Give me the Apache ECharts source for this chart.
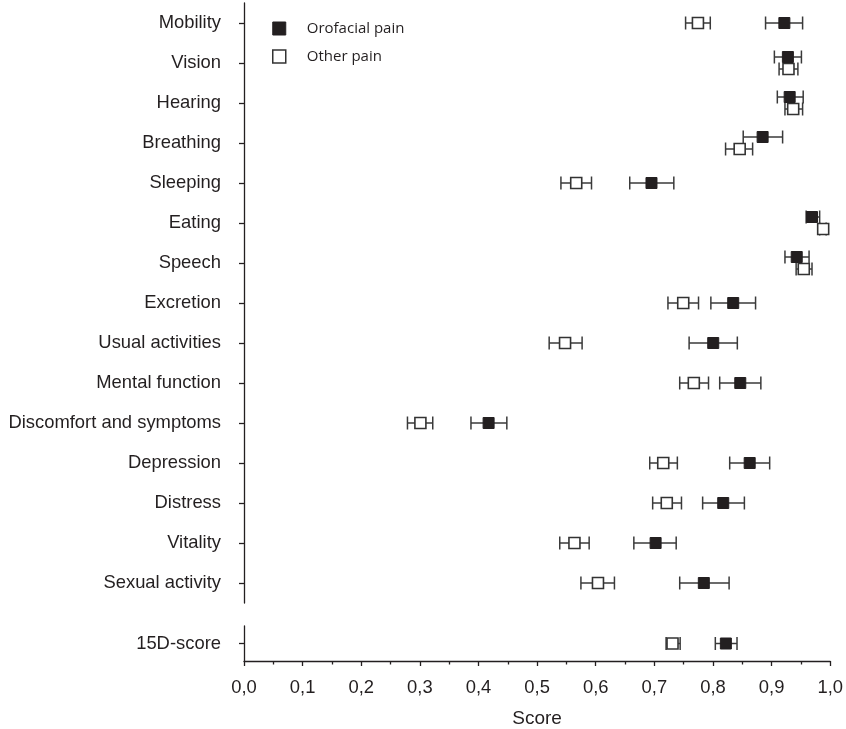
<!DOCTYPE html>
<html>
<head>
<meta charset="utf-8">
<script src="https://cdn.jsdelivr.net/npm/echarts@6/dist/echarts.min.js"></script>
<style>html,body{margin:0;padding:0;background:#fff;}#chart{width:846px;height:729px;}</style>
</head>
<body>
<div id="chart"></div>
<script>
const categories = ['Mobility','Vision','Hearing','Breathing','Sleeping','Eating','Speech','Excretion','Usual activities','Mental function','Discomfort and symptoms','Depression','Distress','Vitality','Sexual activity'];
const orofacialMean = [0.919,0.925,0.928,0.882,0.693,0.966,0.940,0.832,0.798,0.844,0.416,0.860,0.815,0.700,0.782];
const orofacialLow  = [0.887,0.902,0.907,0.849,0.656,0.956,0.920,0.794,0.757,0.809,0.386,0.826,0.780,0.663,0.741];
const orofacialHigh = [0.950,0.948,0.951,0.916,0.731,0.979,0.961,0.870,0.839,0.879,0.447,0.894,0.851,0.735,0.825];
const otherMean = [0.772,0.926,0.934,0.843,0.565,0.985,0.952,0.747,0.546,0.765,0.300,0.713,0.719,0.562,0.602];
const otherLow  = [0.751,0.910,0.920,0.819,0.539,0.979,0.939,0.721,0.519,0.741,0.278,0.690,0.695,0.537,0.573];
const otherHigh = [0.793,0.942,0.950,0.865,0.591,0.990,0.966,0.773,0.575,0.790,0.321,0.737,0.744,0.587,0.630];
const dodgedRows = ['Vision','Hearing','Breathing','Eating','Speech'];
const summaryCategory = ['15D-score'];
const summaryOrofacial = [0.822, 0.804, 0.841];
const summaryOther = [0.731, 0.720, 0.744];
const xTickValues = [0,0.1,0.2,0.3,0.4,0.5,0.6,0.7,0.8,0.9,1.0];

const INK = '#231f20';
function rows(mean, low, high) {
  return mean.map((m, i) => [m, low[i], high[i], i, dodgedRows.indexOf(categories[i]) >= 0 ? 1 : 0]);
}
function makeRender(filled, dir) {
  return function (params, api) {
    const v = api.value(0), lo = api.value(1), hi = api.value(2), yi = api.value(3), dg = api.value(4);
    const c = api.coord([v, yi]);
    const pl = api.coord([lo, yi]);
    const ph = api.coord([hi, yi]);
    const dy = dg ? dir * 6 : 0;
    const y = c[1] + dy;
    const cap = 6.5, s = 11;
    const ls = { stroke: '#3a3a3a', lineWidth: 1.5 };
    return {
      type: 'group',
      children: [
        { type: 'line', shape: { x1: pl[0], y1: y, x2: ph[0], y2: y }, style: ls },
        { type: 'line', shape: { x1: pl[0], y1: y - cap, x2: pl[0], y2: y + cap }, style: ls },
        { type: 'line', shape: { x1: ph[0], y1: y - cap, x2: ph[0], y2: y + cap }, style: ls },
        { type: 'rect', shape: { x: c[0] - s / 2, y: y - s / 2, width: s, height: s },
          style: filled ? { fill: INK, stroke: INK, lineWidth: 1 } : { fill: '#fff', stroke: '#333', lineWidth: 1.6 } }
      ]
    };
  };
}
const font = "'Liberation Sans', Arial, Helvetica, sans-serif";
const chart = echarts.init(document.getElementById('chart'), null, { renderer: 'canvas' });
const xCommon = {
  type: 'value', min: 0, max: 1, interval: 0.1
};
chart.setOption({
  animation: false,
  backgroundColor: '#fff',
  legend: {
    orient: 'vertical', left: 267, top: 16, itemWidth: 13, itemHeight: 13, itemGap: 13,
    icon: 'rect',
    textStyle: { fontFamily: "'Open Sans', sans-serif", fontSize: 15, color: INK, padding: [0, 0, 0, 16] },
    data: [
      { name: 'Orofacial pain', itemStyle: { color: INK, borderColor: INK, borderWidth: 1 } },
      { name: 'Other pain', itemStyle: { color: '#fff', borderColor: '#333', borderWidth: 1.5 } }
    ]
  },
  grid: [
    { left: 244, right: 14, top: 3, height: 600 },
    { left: 244, right: 14, top: 626, height: 40 }
  ],
  xAxis: [
    Object.assign({ gridIndex: 0, show: false, splitLine: { show: false } }, xCommon),
    Object.assign({
      gridIndex: 1,
      name: 'Score', nameLocation: 'middle', nameGap: 48,
      nameTextStyle: { fontFamily: font, fontSize: 19, color: INK },
      axisLine: { show: true, lineStyle: { color: INK, width: 1.3 } },
      axisTick: { show: true, length: 5, lineStyle: { color: INK, width: 1.3 } },
      minorTick: { show: true, splitNumber: 2, length: 3.5, lineStyle: { color: INK, width: 1.3 } },
      splitLine: { show: false },
      axisLabel: {
        fontFamily: font, fontSize: 18.4, color: INK, margin: 18,
        formatter: v => xTickValues.some(t => Math.abs(t - v) < 1e-9) ? v.toFixed(1).replace('.', ',') : ''
      }
    }, xCommon)
  ],
  yAxis: [
    {
      gridIndex: 0, type: 'category', data: categories, inverse: true, offset: 8,
      axisLine: { show: true, lineStyle: { color: INK, width: 1.3 } },
      axisTick: { show: true, alignWithLabel: true, length: 5, lineStyle: { color: INK, width: 1.3 } },
      axisLabel: { fontFamily: font, fontSize: 18.4, color: INK, margin: 15 },
      splitLine: { show: false }
    },
    {
      gridIndex: 1, type: 'category', data: summaryCategory, offset: 8,
      axisLine: { show: true, lineStyle: { color: INK, width: 1.3 } },
      axisTick: { show: true, alignWithLabel: true, length: 5, lineStyle: { color: INK, width: 1.3 } },
      axisLabel: { fontFamily: font, fontSize: 18.4, color: INK, margin: 15 },
      splitLine: { show: false }
    }
  ],
  series: [
    { name: 'Other pain', type: 'custom', xAxisIndex: 0, yAxisIndex: 0, renderItem: makeRender(false, 1),
      encode: { x: [0, 1, 2], y: 3 }, data: rows(otherMean, otherLow, otherHigh), z: 2 },
    { name: 'Orofacial pain', type: 'custom', xAxisIndex: 0, yAxisIndex: 0, renderItem: makeRender(true, -1),
      encode: { x: [0, 1, 2], y: 3 }, data: rows(orofacialMean, orofacialLow, orofacialHigh), z: 3 },
    { name: 'Other pain', type: 'custom', xAxisIndex: 1, yAxisIndex: 1, renderItem: makeRender(false, 1),
      encode: { x: [0, 1, 2], y: 3 }, data: [[summaryOther[0], summaryOther[1], summaryOther[2], 0, 0]], z: 2 },
    { name: 'Orofacial pain', type: 'custom', xAxisIndex: 1, yAxisIndex: 1, renderItem: makeRender(true, -1),
      encode: { x: [0, 1, 2], y: 3 }, data: [[summaryOrofacial[0], summaryOrofacial[1], summaryOrofacial[2], 0, 0]], z: 3 }
  ]
});
</script>
</body>
</html>
